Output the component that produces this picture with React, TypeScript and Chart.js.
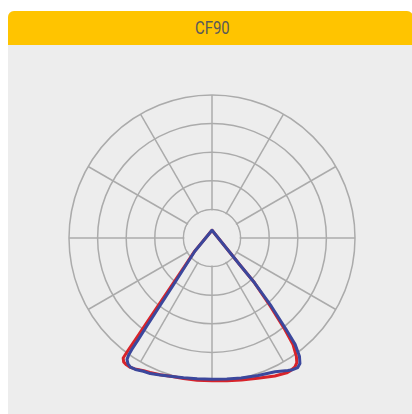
import React, { useEffect, useRef } from 'react';
import { Chart, registerables } from 'chart.js';

Chart.register(...registerables);

// ---- data (intensity vs angle; angle 0° = nadir/bottom, increasing clockwise on screen) ----
const TITLE = 'CF90';
const RING_VALUES = [100, 200, 300, 400, 500];
const SCALE_MAX = 500;
const STEPS_PER_DEGREE = 4;

// C90–C270 plane (blue)
const blueAngles = [0, 6, 11.5, 16, 20.75, 24.5, 27.25, 30.25, 32.25, 33.75, 35, 35.5, 35.75, 36, 36.5, 37.5, 39.25, 43.5, 52.25, 180, 314, 316.5, 319, 321, 322, 323.5, 325, 326.5, 328.5, 330.25, 334.75, 341.5, 348.25, 354];
const blueValues = [494, 495, 499, 504, 512, 521, 524, 532, 534, 529, 518, 501, 480, 439, 384, 301, 218, 136, 76, 27, 136, 216, 316, 412, 472, 514, 536, 543, 540, 534, 517, 507, 500, 496];

// C0–C180 plane (red)
const redAngles = [0, 6, 11.5, 16, 20.75, 24.75, 27.25, 30.5, 32.25, 34, 35.5, 36.5, 36.75, 37, 37.5, 38.5, 40.25, 44, 52.5, 180, 314, 316.5, 319.5, 321.5, 322.75, 324.5, 325.75, 327.25, 329.25, 331, 335.5, 342, 348.25, 354];
const redValues = [499, 500, 501, 504, 511, 518, 522, 531, 535, 535, 532, 522, 492, 444, 388, 305, 221, 138, 77, 27, 136, 216, 314, 409, 468, 508, 527, 536, 539, 539, 530, 516, 507, 502];

// ---- styles ----
const PANEL_BG = '#ededed';
const HEADER_BG = '#ffc400';
const GRID_COLOR = '#ababab';
const BLUE = '#3b479c';
const RED = '#d8232a';

const LABEL_COUNT = 360 * STEPS_PER_DEGREE;
const angleLabels = Array.from({ length: LABEL_COUNT }, (_, i) => `${i / STEPS_PER_DEGREE}°`);

function buildSeries(angles: number[], values: number[]) {
  const data: (number | null)[] = new Array(LABEL_COUNT).fill(null);
  angles.forEach((a, i) => {
    data[Math.round(a * STEPS_PER_DEGREE) % LABEL_COUNT] = values[i];
  });
  return data;
}

const innerMask = {
  id: 'innerMask',
  beforeDatasetsDraw(chart: any) {
    const s = chart.scales.r;
    const r = s.getDistanceFromCenterForValue(RING_VALUES[0]) - 1;
    const ctx = chart.ctx;
    ctx.save();
    ctx.beginPath();
    ctx.arc(s.xCenter, s.yCenter, r, 0, Math.PI * 2);
    ctx.fillStyle = PANEL_BG;
    ctx.fill();
    ctx.restore();
  },
};

export default function App() {
  const canvasRef = useRef<HTMLCanvasElement | null>(null);

  useEffect(() => {
    document.body.style.margin = '0';
    const canvas = canvasRef.current;
    if (!canvas) return;
    const chart = new Chart(canvas, {
      type: 'radar',
      data: {
        labels: angleLabels,
        datasets: [
          {
            label: 'C90-C270',
            data: buildSeries(blueAngles, blueValues),
            borderColor: BLUE,
            backgroundColor: 'transparent',
            borderWidth: 3,
            borderJoinStyle: 'round',
            fill: false,
            spanGaps: true,
            pointRadius: 0,
            pointHitRadius: 0,
            tension: 0,
            order: 0,
          },
          {
            label: 'C0-C180',
            data: buildSeries(redAngles, redValues),
            borderColor: RED,
            backgroundColor: 'transparent',
            borderWidth: 3,
            borderJoinStyle: 'round',
            fill: false,
            spanGaps: true,
            pointRadius: 0,
            pointHitRadius: 0,
            tension: 0,
            order: 1,
          },
        ],
      },
      options: {
        animation: false,
        responsive: false,
        maintainAspectRatio: false,
        layout: { padding: 4 },
        plugins: {
          legend: { display: false },
          tooltip: { enabled: false },
        },
        scales: {
          r: {
            min: 0,
            max: SCALE_MAX,
            startAngle: 180,
            ticks: { display: false, stepSize: 100 },
            pointLabels: { display: false },
            grid: { circular: true, color: GRID_COLOR, lineWidth: 1.5 },
            angleLines: {
              color: GRID_COLOR,
              lineWidth: (ctx: any) => (ctx.index % (30 * STEPS_PER_DEGREE) === 0 ? 1.5 : 0),
            },
          },
        },
      } as any,
      plugins: [innerMask],
    });
    return () => chart.destroy();
  }, []);

  return (
    <div style={{ position: 'fixed', left: 0, top: 0, width: 412, height: 414, background: '#ffffff', overflow: 'hidden' }}>
      <div
        style={{
          position: 'absolute',
          left: 8,
          top: 11,
          width: 405,
          height: 420,
          background: PANEL_BG,
          borderRadius: '6px 6px 0 0',
          overflow: 'hidden',
        }}
      >
        <div
          style={{
            height: 34,
            background: HEADER_BG,
            display: 'flex',
            alignItems: 'center',
            justifyContent: 'center',
            paddingLeft: 3,
          }}
        >
          <span
            style={{
              display: 'inline-block',
              color: '#595959',
              fontFamily: 'Roboto, "Noto Sans", sans-serif',
              fontSize: 17.5,
              lineHeight: '20px',
              transform: 'scaleX(0.85)',
            }}
          >
            {TITLE}
          </span>
        </div>
      </div>
      <div style={{ position: 'absolute', left: 65, top: 91, width: 295, height: 295 }}>
        <canvas ref={canvasRef} width={295} height={295} style={{ width: 295, height: 295, display: 'block' }} />
      </div>
    </div>
  );
}
